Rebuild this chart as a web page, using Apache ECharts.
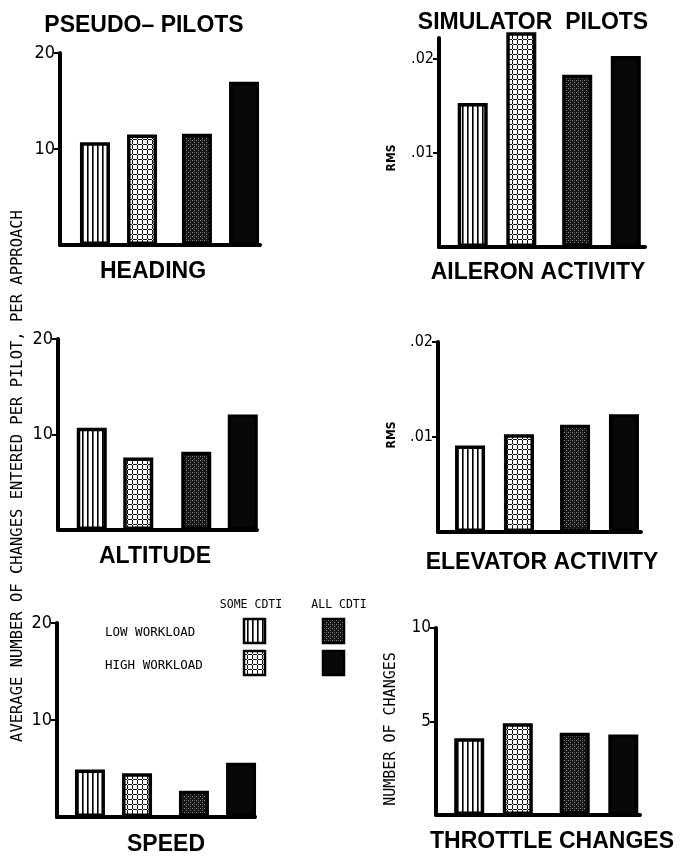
<!DOCTYPE html>
<html><head><meta charset="utf-8">
<script src="https://cdn.jsdelivr.net/npm/echarts@6/dist/echarts.min.js"></script>
<style>html,body{margin:0;padding:0;background:#fff}#c{width:682px;height:858px}</style>
</head><body><div id="c"></div>
<script>
// ---- data ----
const conditions = ['SOME CDTI', 'ALL CDTI'];
const workloads = ['LOW WORKLOAD', 'HIGH WORKLOAD'];
// values ordered: [LOW/SOME, HIGH/SOME, LOW/ALL, HIGH/ALL]
const headingChanges = [10.7, 11.5, 11.6, 17.0];
const altitudeChanges = [10.7, 7.6, 8.2, 12.1];
const speedChanges = [4.9, 4.5, 2.7, 5.6];
const aileronRms = [0.0153, 0.0228, 0.0183, 0.0203];
const elevatorRms = [0.0091, 0.0103, 0.0113, 0.0124];
const throttleChanges = [4.1, 4.9, 4.4, 4.3];
const pseudoTicks = [10, 20];
const pseudoTickLabels = ['10', '20'];
const rmsTicks = [0.01, 0.02];
const rmsTickLabels = ['.01', '.02'];
const throttleTicks = [5, 10];
const throttleTickLabels = ['5', '10'];

// ---- patterns ----
function makePattern(w, h, draw) {
  const c = document.createElement('canvas');
  c.width = w; c.height = h;
  draw(c.getContext('2d'));
  return { image: c, repeat: 'repeat' };
}
const stripes = makePattern(5, 5, g => { g.fillStyle = '#fff'; g.fillRect(0,0,5,5); g.fillStyle = '#000'; g.fillRect(2,0,1.6,5); });
const gridPat = makePattern(5, 5, g => { g.fillStyle = '#fff'; g.fillRect(0,0,5,5); g.fillStyle = '#111'; g.fillRect(0,4,5,1); g.fillRect(2,0,1,5); g.fillStyle='#fff'; g.fillRect(2,4,1,1); });
const stipple = makePattern(4, 4, g => { g.fillStyle = '#151515'; g.fillRect(0,0,4,4); g.fillStyle = '#8a8a8a'; g.fillRect(0,0,1,1); g.fillRect(2,2,1,1); g.fillStyle='#4a4a4a'; g.fillRect(2,0,1,1); });
const solidBlack = '#080808';
const fills = [stripes, gridPat, stipple, solidBlack];

// ---- layout ----
const labelFont = "'Liberation Sans Narrow','DejaVu Sans Condensed','DejaVu Sans',sans-serif";
const panels = [
  { values: headingChanges, ticks: pseudoTicks, tickLabels: pseudoTickLabels, max: 20, interval: 10, axisX: 60, axisEnd: 260, top: 53, base: 245, barLeft: 67.5, barW: 204, gap: '57%', fs: 18 },
  { values: aileronRms, ticks: rmsTicks, tickLabels: rmsTickLabels, max: 0.0222, interval: 0.01, axisX: 439, axisEnd: 645, top: 38, base: 247, barLeft: 444.75, barW: 209, gap: '62%', fs: 16 },
  { values: altitudeChanges, ticks: pseudoTicks, tickLabels: pseudoTickLabels, max: 20, interval: 10, axisX: 58, axisEnd: 257, top: 339, base: 530, barLeft: 62.75, barW: 209, gap: '55%', fs: 18 },
  { values: elevatorRms, ticks: rmsTicks, tickLabels: rmsTickLabels, max: 0.02, interval: 0.01, axisX: 438, axisEnd: 641, top: 342, base: 532, barLeft: 442, barW: 210, gap: '63%', fs: 16 },
  { values: speedChanges, ticks: pseudoTicks, tickLabels: pseudoTickLabels, max: 20, interval: 10, axisX: 57, axisEnd: 255, top: 623, base: 817, barLeft: 61.5, barW: 208, gap: '57%', fs: 18 },
  { values: throttleChanges, ticks: throttleTicks, tickLabels: throttleTickLabels, max: 10, interval: 5, axisX: 436, axisEnd: 640, top: 628, base: 815, barLeft: 440.75, barW: 211, gap: '62%', fs: 17 }
];

const grid = [], xAxis = [], yAxis = [], series = [];
panels.forEach((p, i) => {
  const H = p.base - p.top;
  grid.push({ left: p.axisX, top: p.top, width: p.axisEnd - p.axisX, height: H, containLabel: false });
  grid.push({ left: p.barLeft, top: p.top, width: p.barW, height: H, containLabel: false });
  const gF = 2 * i, gB = 2 * i + 1;
  xAxis.push({ gridIndex: gF, type: 'category', data: conditions,
    axisLine: { show: true, lineStyle: { color: '#000', width: 4 } },
    axisTick: { show: false }, axisLabel: { show: false } });
  xAxis.push({ gridIndex: gB, type: 'category', data: conditions, show: false });
  yAxis.push({ gridIndex: gF, type: 'value', min: 0, max: p.max, interval: p.interval,
    axisLine: { show: true, lineStyle: { color: '#000', width: 4 } },
    axisTick: { show: true, inside: false, length: 6, lineStyle: { color: '#000', width: 2 }, customValues: p.ticks },
    axisLabel: { show: true, customValues: p.ticks, margin: 5, color: '#000', fontFamily: labelFont, fontSize: p.fs,
      formatter: v => { const k = p.ticks.findIndex(t => Math.abs(t - v) < 1e-9); return k >= 0 ? p.tickLabels[k] : ''; } },
    splitLine: { show: false } });
  yAxis.push({ gridIndex: gB, type: 'value', min: 0, max: p.max, show: false, splitLine: { show: false } });
  workloads.forEach((w, wi) => {
    series.push({
      type: 'bar', name: w, xAxisIndex: 2 * i + 1, yAxisIndex: 2 * i + 1,
      barWidth: 30, barGap: p.gap, clip: false, silent: true, animation: false,
      data: conditions.map((c, ci) => {
        const k = ci * 2 + wi;
        return { value: p.values[k], itemStyle: { color: fills[k], borderColor: '#000', borderWidth: 3.5 } };
      })
    });
  });
});

// ---- texts ----
const boldFont = "'Liberation Sans','Arial',sans-serif";
const monoFont = "'DejaVu Sans Mono','Liberation Mono',monospace";
function txt(text, x, y, size, opts) {
  opts = opts || {};
  return { type: 'text', x: x, y: y, rotation: opts.rot || 0, silent: true,
    style: { text: text, fill: '#000', font: (opts.weight || 'bold') + ' ' + size + 'px ' + (opts.family || boldFont),
      textAlign: opts.align || 'center', textVerticalAlign: 'middle' } };
}
function swatch(x, y, fill) {
  return { type: 'rect', shape: { x: x, y: y, width: 21, height: 24 }, silent: true,
    style: { fill: fill, stroke: '#000', lineWidth: 2.5 } };
}
const graphic = [
  txt('PSEUDO– PILOTS', 144, 26, 23),
  txt('SIMULATOR  PILOTS', 533, 23, 23),
  txt('HEADING', 153, 272, 23),
  txt('AILERON ACTIVITY', 538, 273, 23),
  txt('ALTITUDE', 155, 557, 23),
  txt('ELEVATOR ACTIVITY', 542, 563, 23),
  txt('SPEED', 166, 845, 23),
  txt('THROTTLE CHANGES', 552, 842, 23),
  txt('AVERAGE NUMBER OF CHANGES ENTERED PER PILOT, PER APPROACH', 18, 476, 15.5, { rot: Math.PI / 2, weight: 'normal', family: monoFont }),
  txt('RMS', 392, 158, 12, { rot: Math.PI / 2, family: labelFont }),
  txt('RMS', 392, 435, 12, { rot: Math.PI / 2, family: labelFont }),
  txt('NUMBER OF CHANGES', 391, 729, 15, { rot: Math.PI / 2, weight: 'normal', family: monoFont }),
  txt(conditions[0], 251, 605, 11.5, { weight: 'normal', family: monoFont }),
  txt(conditions[1], 339, 605, 11.5, { weight: 'normal', family: monoFont }),
  txt(workloads[0], 105, 633, 12.5, { weight: 'normal', family: monoFont, align: 'left' }),
  txt(workloads[1], 105, 666, 12.5, { weight: 'normal', family: monoFont, align: 'left' }),
  swatch(244, 619, fills[0]),
  swatch(323, 619, fills[2]),
  swatch(244, 651, fills[1]),
  swatch(323, 651, fills[3])
];

const chart = echarts.init(document.getElementById('c'), null, { renderer: 'canvas' });
chart.setOption({ animation: false, backgroundColor: '#fff', grid, xAxis, yAxis, series, graphic });
</script>
</body></html>
